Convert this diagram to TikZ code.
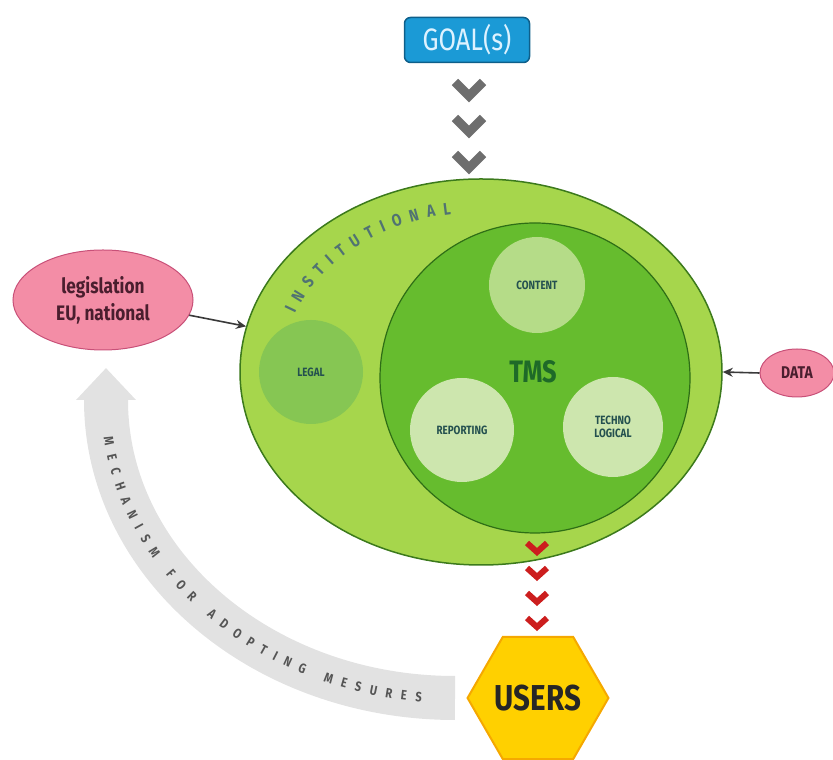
\documentclass[tikz,border=0pt]{standalone}
\usepackage{fontspec}
\setmainfont{Fira Sans}[FakeStretch=0.82]
\usetikzlibrary{arrows.meta,%
		positioning,%
		shapes.geometric,%
		decorations.text}

\definecolor{goalblue}{HTML}{1B9AD6}
\definecolor{goalline}{HTML}{0E5F8A}
\definecolor{goaltext}{HTML}{DDF2FF}
\definecolor{instgreen}{HTML}{A6D64C}
\definecolor{instline}{HTML}{3C7A1C}
\definecolor{tmsgreen}{HTML}{66BC2E}
\definecolor{tmsline}{HTML}{2E6E16}
\definecolor{tmstext}{HTML}{1E6A28}
\definecolor{partlight}{HTML}{CDE6AE}
\definecolor{partmid}{HTML}{B5DC88}
\definecolor{partdark}{HTML}{86C653}
\definecolor{parttext}{HTML}{24504F}
\definecolor{pinkfill}{HTML}{F38DA6}
\definecolor{pinkline}{HTML}{C85078}
\definecolor{pinktext}{HTML}{4A1E2E}
\definecolor{bandgrey}{HTML}{E2E2E2}
\definecolor{bandtext}{HTML}{555555}
\definecolor{chevgrey}{HTML}{6E6E6E}
\definecolor{chevred}{HTML}{CC1E1E}
\definecolor{usersfill}{HTML}{FFD000}
\definecolor{usersline}{HTML}{F5A800}
\definecolor{arrowgrey}{HTML}{3A3A3A}

\begin{document}
\begin{tikzpicture}[x=1pt,y=1pt,
  every node/.style={inner sep=0pt},
  goalbox/.style={rectangle, rounded corners=6pt, fill=goalblue, draw=goalline,
    line width=1.5pt, minimum width=125pt, minimum height=45pt, text=goaltext,
    font=\fontsize{31}{33}\selectfont},
  instbox/.style={ellipse, fill=instgreen, draw=instline, line width=1.5pt,
    minimum width=482pt, minimum height=386pt},
  tmsbox/.style={circle, fill=tmsgreen, draw=tmsline, line width=1.2pt,
    minimum size=310pt},
  partbox/.style={circle, text=parttext, align=center,
    font=\bfseries\fontsize{12}{13}\selectfont},
  pinkbox/.style={ellipse, fill=pinkfill, draw=pinkline, line width=1pt,
    text=pinktext, align=center, font=\bfseries\fontsize{21}{27}\selectfont},
  usersbox/.style={regular polygon, regular polygon sides=6, minimum size=140pt,
    fill=usersfill, draw=usersline, line width=2pt, text=black!85,
    font=\bfseries\fontsize{36}{38}\selectfont},
  conn/.style={-{Stealth[length=10pt,width=9pt]}, line width=1.6pt, draw=arrowgrey},
  greychev/.style={draw=chevgrey, line width=9pt},
  redchev/.style={draw=chevred, line width=6pt}]

  \useasboundingbox (0,0) rectangle (833,760);

  % feedback band
  \coordinate (bandend) at (455,62);
  \coordinate (bandtip) at (106,392);
  \draw[bandgrey, line width=44pt, -{Triangle[length=32pt,width=58pt]}]
    (bandend) arc[start angle=270, end angle=180, x radius=349, y radius=298] -- (bandtip);
  \path[decorate, decoration={text along path, text color=bandtext,
      text={|\bfseries\fontsize{13.5}{13.5}\selectfont|MECHANISM FOR ADOPTING MESURES},
      text align={left indent=38pt, right indent=34pt, fit to path}}]
    (101,360) arc[start angle=180, end angle=270, x radius=354, y radius=303];

  \node[goalbox] (goal) at (467,720) {GOAL(s)};

  \node[instbox] (inst) at (481,388) {};
  \path[decorate, decoration={text along path, text color=parttext!80,
      text={|\bfseries\fontsize{17}{17}\selectfont|INSTITUTIONAL},
      text align={fit to path}}]
    (295,446) arc[start angle=160, end angle=98, x radius=195, y radius=154];

  \node[tmsbox] (tms) at (535,382) {};
  \node[text=tmstext, font=\bfseries\fontsize{31}{31}\selectfont] (tmslabel) at (533,388) {TMS};

  \node[partbox, fill=partmid, minimum size=96pt] (content) at (537,475) {CONTENT};
  \node[partbox, fill=partlight, minimum size=104pt] (reporting) at (462,330) {REPORTING};
  \node[partbox, fill=partlight, minimum size=100pt] (techno) at (613,333) {TECHNO\\LOGICAL};
  \node[partbox, fill=partdark, minimum size=104pt] (legal) at (311,388) {LEGAL};

  \node[pinkbox, minimum width=180pt, minimum height=100pt] (legis) at (103,460) {legislation\\EU, national};
  \node[pinkbox, minimum width=74pt, minimum height=48pt,
    font=\bfseries\fontsize{17}{17}\selectfont] (data) at (797,387) {DATA};

  \node[usersbox] (users) at (538,62) {USERS};

  \draw[conn] (legis.-10) -- (inst.169);
  \draw[conn] (data.west) -- (inst.east);

  \foreach \y in {671,635,599}
    \draw[greychev] (455,\y+7) -- (469,\y-7) -- (483,\y+7);
  \foreach \y in {213,188,163,138}
    \draw[redchev] (527,\y+4) -- (537,\y-5) -- (547,\y+4);

\end{tikzpicture}
\end{document}
